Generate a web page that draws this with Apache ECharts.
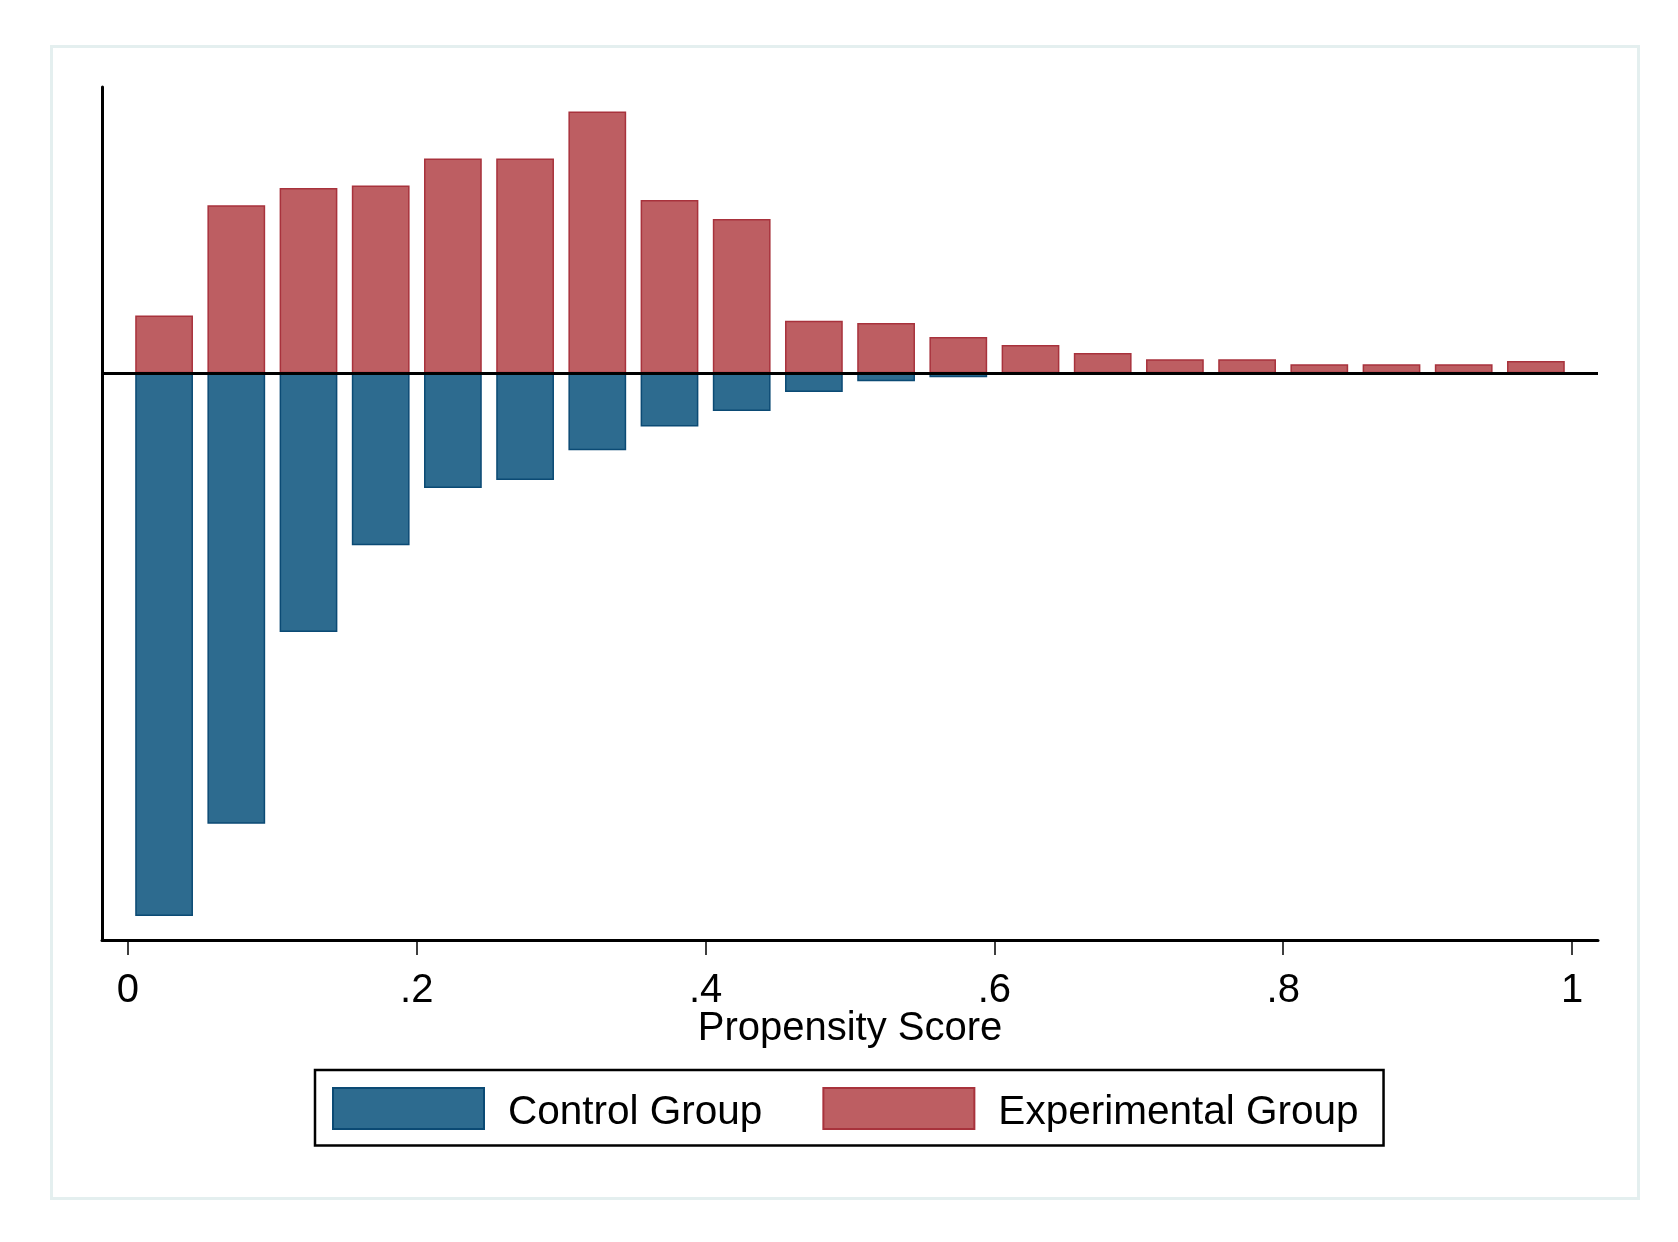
<!DOCTYPE html>
<html>
<head>
<meta charset="utf-8">
<script src="https://cdn.jsdelivr.net/npm/echarts@6/dist/echarts.min.js"></script>
<style>
  html, body { margin: 0; padding: 0; background: #ffffff; }
  #chart { width: 1678px; height: 1242px; }
</style>
</head>
<body>
<div id="chart"></div>
<script>
// Bin centres of the propensity score histogram (bin width 0.05)
var binCenters = [0.025, 0.075, 0.125, 0.175, 0.225, 0.275, 0.325, 0.375, 0.425, 0.475,
                  0.525, 0.575, 0.625, 0.675, 0.725, 0.775, 0.825, 0.875, 0.925, 0.975];
// Percent of each group in the bin (control drawn downward as negative values)
var controlValues = [-29.18, -24.22, -13.92, -9.25, -6.18, -5.75, -4.14, -2.87, -2.04, -1.02,
                     -0.43, -0.22, -0.10, -0.05, -0.06, -0.03, 0, 0, 0, -0.02];
var experimentalValues = [3.10, 9.03, 9.95, 10.09, 11.54, 11.54, 14.06, 9.30, 8.28, 2.81,
                          2.69, 1.94, 1.51, 1.08, 0.75, 0.75, 0.48, 0.48, 0.48, 0.65];
var xTickValues = [0, 0.2, 0.4, 0.6, 0.8, 1];
var xTickLabels = ['0', '.2', '.4', '.6', '.8', '1'];
var seriesNames = ['Control Group', 'Experimental Group'];
var xAxisTitle = 'Propensity Score';

var X_MIN = -0.018, X_MAX = 1.018, Y_MIN = -30.47, Y_MAX = 15.38;
var BIN_BAR = 0.04;
var GRID = { left: 102, right: 80, top: 87, bottom: 302 };
var W = 1678, H = 1242;
var pxPerUnit = (W - GRID.left - GRID.right) / (X_MAX - X_MIN);
var barW = BIN_BAR * pxPerUnit;

function pairs(xs, ys) { return xs.map(function (x, i) { return [x, ys[i]]; }); }

var FONT = '"Liberation Sans", Arial, Helvetica, sans-serif';
var chart = echarts.init(document.getElementById('chart'), null, { renderer: 'canvas' });
chart.setOption({
  backgroundColor: '#ffffff',
  animation: false,
  textStyle: { fontFamily: FONT },
  graphic: [{
    type: 'rect', silent: true, z: -1,
    shape: { x: 51.5, y: 46.5, width: 1587, height: 1152 },
    style: { fill: 'none', stroke: '#e4efef', lineWidth: 3 }
  }],
  grid: { left: GRID.left, right: GRID.right, top: GRID.top, bottom: GRID.bottom, containLabel: false },
  legend: {
    left: 315, top: 1070,
    orient: 'horizontal',
    data: seriesNames,
    icon: 'rect',
    itemWidth: 151, itemHeight: 41, itemGap: 60,
    padding: [17, 25, 12, 17],
    borderColor: '#000000', borderWidth: 2.5,
    backgroundColor: '#ffffff',
    formatter: function (name) { return '{t|' + name + '}'; },
    textStyle: {
      fontSize: 40.5, color: '#000', fontFamily: FONT, padding: [0, 0, 0, 19],
      rich: { t: { fontSize: 40.5, fontFamily: FONT, color: '#000', padding: [9, 0, 0, 0] } }
    }
  },
  xAxis: {
    type: 'value', min: X_MIN, max: X_MAX,
    name: xAxisTitle, nameLocation: 'middle', nameGap: 69, nameMoveOverlap: false,
    nameTextStyle: { fontSize: 40, color: '#000', fontFamily: FONT },
    axisLine: { show: true, onZero: false, lineStyle: { color: '#000', width: 3 } },
    axisTick: { show: true, length: 15, customValues: xTickValues, lineStyle: { color: '#000', width: 1.5 } },
    axisLabel: {
      show: true, margin: 31, fontSize: 40, color: '#000', fontFamily: FONT,
      customValues: xTickValues,
      formatter: function (v) {
        for (var i = 0; i < xTickValues.length; i++) {
          if (Math.abs(xTickValues[i] - v) < 1e-9) return xTickLabels[i];
        }
        return '';
      }
    },
    splitLine: { show: false }
  },
  yAxis: {
    type: 'value', min: Y_MIN, max: Y_MAX,
    axisLine: { show: true, onZero: false, lineStyle: { color: '#000', width: 3 } },
    axisTick: { show: false }, axisLabel: { show: false }, splitLine: { show: false }
  },
  series: [
    {
      name: seriesNames[0], type: 'bar', barWidth: barW, barGap: '-100%',
      data: pairs(binCenters, controlValues),
      itemStyle: { color: '#2d6b8f', borderColor: '#0b4a74', borderWidth: 1.5 }
    },
    {
      name: seriesNames[1], type: 'bar', barWidth: barW, barGap: '-100%',
      data: pairs(binCenters, experimentalValues),
      itemStyle: { color: '#bd5e62', borderColor: '#a8323c', borderWidth: 1.5 },
      markLine: {
        silent: true, symbol: ['none', 'none'], label: { show: false },
        lineStyle: { color: '#000', width: 3, type: 'solid' },
        data: [{ yAxis: 0 }]
      }
    }
  ]
});
</script>
</body>
</html>
